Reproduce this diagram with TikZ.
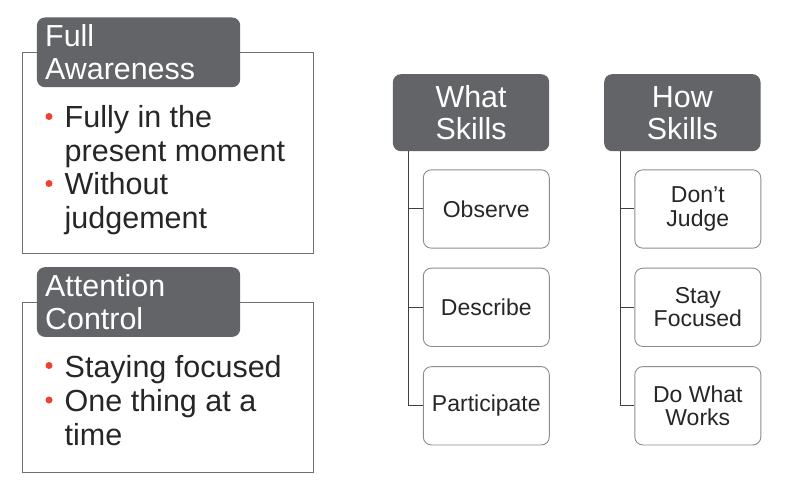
\documentclass[tikz,border=0pt]{standalone}
\usepackage{fontspec}
\setmainfont{Liberation Sans}
\definecolor{hdrgray}{HTML}{636467}
\definecolor{txtdark}{HTML}{262626}
\definecolor{framegray}{HTML}{707070}
\definecolor{boxgray}{HTML}{8C8C8C}
\definecolor{treegray}{HTML}{404040}
\definecolor{bulletred}{HTML}{EF4130}
\begin{document}
\begin{tikzpicture}[x=1bp,y=-1bp,
  panel/.style={draw=framegray, line width=0.9bp, anchor=north west, inner sep=0, minimum width=291.6bp},
  hdr/.style={fill=hdrgray, rounded corners=8bp, anchor=north west, inner sep=0,
    minimum width=203.3bp, minimum height=69.7bp, text width=186.7bp, align=left,
    text=white, font=\fontsize{30.4bp}{33bp}\selectfont},
  bigtxt/.style={text=txtdark, font=\fontsize{30.5bp}{33.5bp}\selectfont, anchor=base west, inner sep=0},
  bdot/.style={circle, fill=bulletred, inner sep=0, minimum size=7bp},
  skillhdr/.style={fill=hdrgray, rounded corners=8bp, anchor=north west, inner sep=0,
    minimum width=156.3bp, minimum height=77bp, text=white, align=center,
    font=\fontsize{30.4bp}{32bp}\selectfont},
  skillbox/.style={draw=boxgray, line width=0.9bp, rounded corners=8bp, text=txtdark,
    align=center, font=\fontsize{23bp}{23.5bp}\selectfont, inner sep=0,
    minimum width=126bp, minimum height=78.3bp},
  tree/.style={draw=treegray, line width=1bp}]
\fill[white] (0,0) rectangle (792,482);
\useasboundingbox (0,0) rectangle (792,482);

% ---- Full Awareness panel
\node[panel, minimum height=200.7bp] (p1) at (21.7,52.3) {};
\node[hdr] (h1) at (36.7,17.3) {Full\\Awareness};
\node[bdot] (d1) at (49,116.5) {};
\node[bigtxt] (t1a) at (64.5,128) {Fully in the};
\node[bigtxt] (t1b) at (64.5,161.5) {present moment};
\node[bdot] (d2) at (49,183.5) {};
\node[bigtxt] (t1c) at (64.5,195) {Without};
\node[bigtxt] (t1d) at (64.5,228.5) {judgement};

% ---- Attention Control panel
\node[panel, minimum height=170bp] (p2) at (21.7,302) {};
\node[hdr] (h2) at (36.7,267) {Attention\\Control};
\node[bdot] (d3) at (49,365.5) {};
\node[bigtxt] (t2a) at (64.5,377) {Staying focused};
\node[bdot] (d4) at (49,400) {};
\node[bigtxt] (t2b) at (64.5,411.5) {One thing at a};
\node[bigtxt] (t2c) at (64.5,445) {time};

% ---- What Skills
\node[skillhdr] (wh) at (392.7,74) {What\\Skills};
\node[skillbox] (wobs) at (486.3,209) {Observe};
\node[skillbox] (wdes) at (486.3,307.3) {Describe};
\node[skillbox] (wpar) at (486.3,405.8) {Participate};
\coordinate (wt) at (408.8,151);
\draw[tree] (wt) |- (wpar.west);
\draw[tree] (wt |- wobs.west) -- (wobs.west);
\draw[tree] (wt |- wdes.west) -- (wdes.west);

% ---- How Skills
\node[skillhdr] (hh) at (604,74) {How\\Skills};
\node[skillbox] (hdj) at (697.8,209) {Don’t\\Judge};
\node[skillbox] (hsf) at (697.8,307.3) {Stay\\Focused};
\node[skillbox] (hdw) at (697.8,405.8) {Do What\\Works};
\coordinate (ht) at (620,151);
\draw[tree] (ht) |- (hdw.west);
\draw[tree] (ht |- hdj.west) -- (hdj.west);
\draw[tree] (ht |- hsf.west) -- (hsf.west);
\end{tikzpicture}
\end{document}
